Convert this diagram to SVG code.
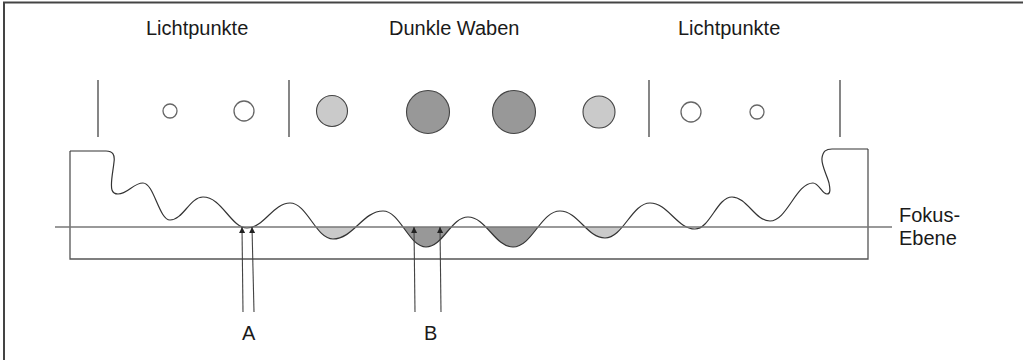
<svg xmlns="http://www.w3.org/2000/svg" width="1023" height="360" viewBox="0 0 1023 360">
  <style>
    .label { font-family: "Liberation Sans", Arial, sans-serif; font-size: 20px; fill: #1a1a1a; }
    .frame { stroke: #444; stroke-width: 2; fill: none; }
    .edge { stroke: #555; stroke-width: 1.3; fill: none; }
    .wave { stroke: #333; stroke-width: 1.2; fill: none; }
    .focus { stroke: #777; stroke-width: 1.3; fill: none; }
    .divider { stroke: #444; stroke-width: 1.3; fill: none; }
    .spot { fill: #fff; stroke: #666; stroke-width: 1.3; }
    .light { fill: #cacaca; stroke: #444; stroke-width: 1.1; }
    .dark { fill: #989898; stroke: #444; stroke-width: 1.1; }
    .ray { stroke: #444; stroke-width: 1.1; fill: none; marker-end: url(#head); }
  </style>
  <defs>
    <marker id="head" viewBox="0 0 10 10" refX="10" refY="5" markerWidth="9" markerHeight="6" markerUnits="userSpaceOnUse" orient="auto">
      <path d="M0,0 L10,5 L0,10 z" fill="#222"/>
    </marker>
    <clipPath id="clipLight">
      <rect x="300" y="227" width="70" height="35"/>
      <rect x="570" y="227" width="70" height="35"/>
    </clipPath>
    <clipPath id="clipDark">
      <rect x="390" y="227" width="160" height="35"/>
    </clipPath>
  </defs>

  <rect width="1023" height="360" fill="#fff"/>

  <!-- outer frame (top and left edges) -->
  <path class="frame" d="M4,360 L4,2.5 L1023,2.5"/>

  <!-- headings -->
  <text class="label" x="146" y="35">Lichtpunkte</text>
  <text class="label" x="389" y="35">Dunkle Waben</text>
  <text class="label" x="678" y="35">Lichtpunkte</text>

  <!-- section dividers -->
  <g id="dividers">
    <line class="divider" x1="98" y1="80" x2="98" y2="137"/>
    <line class="divider" x1="289" y1="80" x2="289" y2="137"/>
    <line class="divider" x1="649" y1="80" x2="649" y2="137"/>
    <line class="divider" x1="840" y1="80" x2="840" y2="137"/>
  </g>

  <!-- spots as seen from above -->
  <g id="spots">
    <circle class="spot" cx="170" cy="111" r="7"/>
    <circle class="spot" cx="244" cy="111" r="10"/>
    <circle class="light" cx="332" cy="111" r="15.5"/>
    <circle class="dark" cx="428" cy="112" r="21.5"/>
    <circle class="dark" cx="514" cy="112" r="21.5"/>
    <circle class="light" cx="599" cy="112" r="16"/>
    <circle class="spot" cx="691" cy="112" r="10"/>
    <circle class="spot" cx="757" cy="112" r="7"/>
  </g>

  <!-- parts of the surface below the focal plane -->
  <g id="shading">
    <path class="light" style="stroke:none" clip-path="url(#clipLight)" d="M290,203 C307,203 316,239 333,239 C353,239 363,211 383,211 C400,211 409,247 426,247 C443,247 451,217 468,217 C486,217 495,247 513,247 C532,247 541,211 560,211 C578,211 587,238 605,238 C623,238 632,203 650,203 L650,100 L290,100 Z"/>
    <path class="dark" style="stroke:none" clip-path="url(#clipDark)" d="M290,203 C307,203 316,239 333,239 C353,239 363,211 383,211 C400,211 409,247 426,247 C443,247 451,217 468,217 C486,217 495,247 513,247 C532,247 541,211 560,211 C578,211 587,238 605,238 C623,238 632,203 650,203 L650,100 L290,100 Z"/>
  </g>

  <!-- sample block with corrugated surface -->
  <g id="sample">
    <path class="edge" d="M70,151 L70,259 L868,259 L868,149"/>
    <path class="wave" d="M70,151 L106,151 C113,151 115,155 114,162 C113,172 110,184 112,190 C113,193 115,194 118,194 C128,194 133,183 143,183 C154,183 159,220 170,220 C183,220 190,197 203,197 C222,197 231,228 247,228 C264,228 273,203 290,203 C307,203 316,239 333,239 C353,239 363,211 383,211 C400,211 409,247 426,247 C443,247 451,217 468,217 C486,217 495,247 513,247 C532,247 541,211 560,211 C578,211 587,238 605,238 C623,238 632,203 650,203 C668,203 677,229 695,229 C710,229 717,197 732,197 C747,197 755,221 770,221 C787,221 796,183 813,183 C819,183 822,194 827,194 C831,194 830,188 829,183 C827,175 821,165 822,158 C823,151 826,149 832,149 L868,149"/>
  </g>

  <!-- focal plane -->
  <g id="focal-plane">
    <line class="focus" x1="55" y1="227" x2="892" y2="227"/>
    <text class="label" x="899" y="222">Fokus-</text>
    <text class="label" x="899" y="245">Ebene</text>
  </g>

  <!-- incoming rays -->
  <g id="connectors">
    <line class="ray" x1="243" y1="312" x2="242" y2="227"/>
    <line class="ray" x1="254" y1="312" x2="252" y2="227"/>
    <line class="ray" x1="415" y1="312" x2="414" y2="227"/>
    <line class="ray" x1="441" y1="312" x2="440" y2="227"/>
  </g>

  <text class="label" x="242" y="340">A</text>
  <text class="label" x="424" y="340">B</text>
</svg>
